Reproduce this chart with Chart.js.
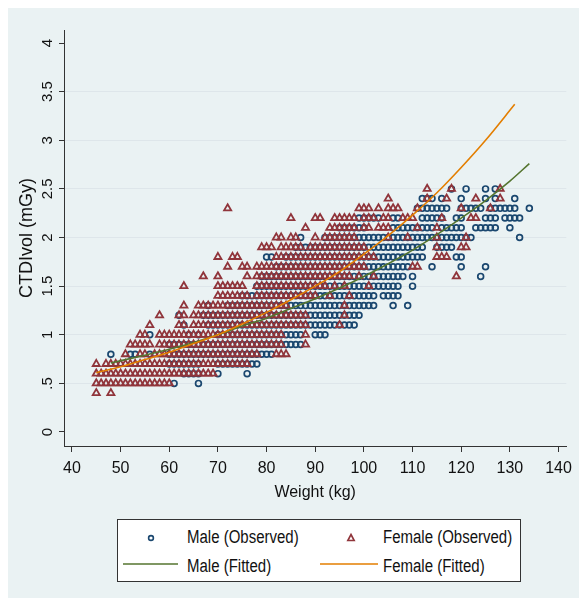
<!DOCTYPE html>
<html>
<head>
<meta charset="utf-8">
<script src="https://cdn.jsdelivr.net/npm/chart.js@4.4.1/dist/chart.umd.min.js"></script>
<style>
  body { margin: 0; background: #fff; font-family: "Liberation Sans", Arial, sans-serif; }
  #frame { position: absolute; left: 8px; top: 8px; width: 571px; height: 590px; background: rgb(234,242,243); }
  #chartBox { position: absolute; left: 0; top: 0; width: 571px; height: 500px; }
  #legend { position: absolute; left: 109px; top: 511px; width: 402px; height: 61px; background: #fff; border: 1px solid #333; }
  #legend .txt { position: absolute; font-size: 15px; color: #111; white-space: nowrap; line-height: 18px; transform: scaleY(1.2); transform-origin: left center; }
  #legend svg { position: absolute; }
</style>
</head>
<body>
<div id="frame">
  <div id="chartBox"><canvas id="scatterChart" width="571" height="500"></canvas></div>
  <div id="legend">
    <svg style="left:27px;top:12px" width="12" height="12"><circle cx="6" cy="6" r="2.4" fill="none" stroke="rgb(26,71,111)" stroke-width="1.6"/></svg>
    <div class="txt" style="left:69px;top:8px">Male (Observed)</div>
    <svg style="left:227px;top:12px" width="12" height="12"><polygon points="6,2.5 9.2,8.5 2.8,8.5" fill="none" stroke="rgb(144,53,59)" stroke-width="1.6"/></svg>
    <div class="txt" style="left:265px;top:8px">Female (Observed)</div>
    <svg style="left:5px;top:41px" width="56" height="6"><line x1="0" y1="3" x2="55" y2="3" stroke="rgb(85,117,47)" stroke-width="1.6"/></svg>
    <div class="txt" style="left:69px;top:37px">Male (Fitted)</div>
    <svg style="left:202px;top:41px" width="60" height="6"><line x1="0" y1="3" x2="58" y2="3" stroke="rgb(227,126,0)" stroke-width="1.6"/></svg>
    <div class="txt" style="left:265px;top:37px">Female (Fitted)</div>
  </div>
</div>
<script>
  // tick labels
  const xTicks = [40, 50, 60, 70, 80, 90, 100, 110, 120, 130, 140];
  const yTicks = [0, 0.5, 1, 1.5, 2, 2.5, 3, 3.5, 4];

  // observed points, one row per CTDIvol level: weights (kg), "a-b" = run of markers
  const maleObserved = [
    [0.5, '61 66'],
    [0.6, '63-66 70 76'],
    [0.7, '60-66 70-78'],
    [0.8, '48 52-53 56 60-81'],
    [0.9, '60-87'],
    [1.0, '56 64 66 70-87 90-92'],
    [1.1, '63 68-98'],
    [1.2, '62 67-99'],
    [1.3, '68 72-102 106 109'],
    [1.4, '75-102 104-107'],
    [1.5, '78-107 110'],
    [1.6, '79-108 110 124'],
    [1.7, '82-109 114 120 125'],
    [1.8, '80-81 84-112 119-120'],
    [1.9, '86-112 115-118'],
    [2.0, '87 92-122 132'],
    [2.1, '95-100 106-114 116-120 123-127 130'],
    [2.2, '99-103 106-107 112-116 119-120 125-127 129-132'],
    [2.3, '111-117 120-124 126-131 134'],
    [2.4, '112-114 116 120 125 127 131'],
    [2.5, '118 121 125 127']
  ];
  const femaleObserved = [
    [0.4, '45 48'],
    [0.5, '45-60'],
    [0.6, '45-69'],
    [0.7, '45 47-76'],
    [0.8, '51 54-55 57-78 82-84'],
    [0.9, '52-56 58-83 88'],
    [1.0, '54-55 58-83 88'],
    [1.1, '56 62-63 65-88 95'],
    [1.2, '58 62-63 65-88 96'],
    [1.3, '63 66-84 96'],
    [1.4, '70-76 78-90 93 97'],
    [1.5, '63 70-75 78-92 94 96 101'],
    [1.6, '67 70 76 78-97 99 102 119'],
    [1.7, '72 75-76 78-100 110-111'],
    [1.8, '70 73-74 82-102 115-117'],
    [1.9, '79-81 83-87 89-100 115 120-121'],
    [2.0, '82-83 85-86 90 92-98 105 109 115 121'],
    [2.1, '88 93-98 100-101 103-105 111 115'],
    [2.2, '85 90-91 94-98 100-102 104-105 108-110 116 122-123'],
    [2.3, '72 99-101 103 105-107 111 120 126'],
    [2.4, '105 113 117 123 128'],
    [2.5, '113 118 128']
  ];

  // fitted curves
  const maleFitW = [48, 55, 60, 65, 70, 75, 80, 85, 90, 95, 100, 105, 110, 115, 120, 125, 130, 134];
  const maleFitV = [0.71, 0.79, 0.85, 0.92, 1.0, 1.09, 1.17, 1.27, 1.37, 1.48, 1.6, 1.73, 1.87, 2.03, 2.2, 2.38, 2.58, 2.76];
  const femaleFitW = [45, 50, 55, 60, 65, 70, 75, 80, 85, 90, 95, 100, 105, 110, 115, 120, 125, 131];
  const femaleFitV = [0.61, 0.67, 0.745, 0.82, 0.91, 1.0, 1.11, 1.23, 1.36, 1.5, 1.65, 1.83, 2.02, 2.23, 2.46, 2.72, 3.0, 3.37];

  function toPoints(rows) {
    const pts = [];
    rows.forEach(([v, runs]) => {
      runs.split(' ').forEach(r => {
        const [a, b] = r.split('-').map(Number);
        for (let w = a; w <= (b || a); w++) pts.push({ x: w, y: v });
      });
    });
    return pts;
  }
  const pair = (ws, vs) => ws.map((w, i) => ({ x: w, y: vs[i] }));

  const navy = 'rgb(26,71,111)';
  const maroon = 'rgb(144,53,59)';
  const green = 'rgb(85,117,47)';
  const orange = 'rgb(227,126,0)';
  const axisColor = '#333';
  const fontFamily = '"Liberation Sans", Arial, sans-serif';

  const ctx = document.getElementById('scatterChart').getContext('2d');
  const scatterChart = new Chart(ctx, {
    type: 'scatter',
    data: {
      datasets: [
        { label: 'Female (Fitted)', data: pair(femaleFitW, femaleFitV), showLine: true, borderColor: orange, borderWidth: 1.6, pointRadius: 0, cubicInterpolationMode: 'monotone', fill: false },
        { label: 'Male (Fitted)', data: pair(maleFitW, maleFitV), showLine: true, borderColor: green, borderWidth: 1.6, pointRadius: 0, cubicInterpolationMode: 'monotone', fill: false },
        { label: 'Female (Observed)', data: toPoints(femaleObserved), pointStyle: 'triangle', pointRadius: 4.1, borderColor: maroon, backgroundColor: 'rgba(0,0,0,0)', borderWidth: 1.8 },
        { label: 'Male (Observed)', data: toPoints(maleObserved), pointStyle: 'circle', pointRadius: 2.9, borderColor: navy, backgroundColor: 'rgba(0,0,0,0)', borderWidth: 1.7 }
      ]
    },
    options: {
      responsive: false,
      animation: false,
      events: [],
      layout: { padding: { left: 0, top: 22, right: 8, bottom: 0 } },
      plugins: { legend: { display: false }, tooltip: { enabled: false } },
      scales: {
        x: {
          type: 'linear',
          min: 38.37,
          max: 141.6,
          afterBuildTicks: s => { s.ticks = xTicks.map(v => ({ value: v })); },
          afterFit: s => { s.height = 62; },
          grid: { drawOnChartArea: false, tickLength: 6, tickColor: axisColor },
          border: { color: axisColor, width: 1 },
          ticks: { color: '#111', padding: 7, maxRotation: 0, font: { size: 16, family: fontFamily } },
          title: { display: true, text: 'Weight (kg)', color: '#111', font: { size: 16, family: fontFamily }, padding: { top: 0, bottom: 6 } }
        },
        y: {
          type: 'linear',
          min: -0.144,
          max: 4.134,
          afterBuildTicks: s => { s.ticks = yTicks.map(v => ({ value: v })); },
          afterFit: s => { s.width = 56; },
          grid: {
            color: c => (c.tick && (c.tick.value === 0 || c.tick.value === 4)) ? 'rgba(0,0,0,0)' : 'rgb(222,230,234)',
            tickLength: 5,
            tickColor: axisColor
          },
          border: { color: axisColor, width: 1 },
          ticks: {
            color: '#111',
            minRotation: 90,
            maxRotation: 90,
            crossAlign: 'center',
            padding: 1,
            font: { size: 15, family: fontFamily },
            callback: v => String(v).replace(/^0\./, '.')
          },
          title: { display: true, text: 'CTDIvol (mGy)', color: '#111', font: { size: 18, family: fontFamily }, padding: { top: 8, bottom: 0 } }
        }
      }
    }
  });
</script>
</body>
</html>
